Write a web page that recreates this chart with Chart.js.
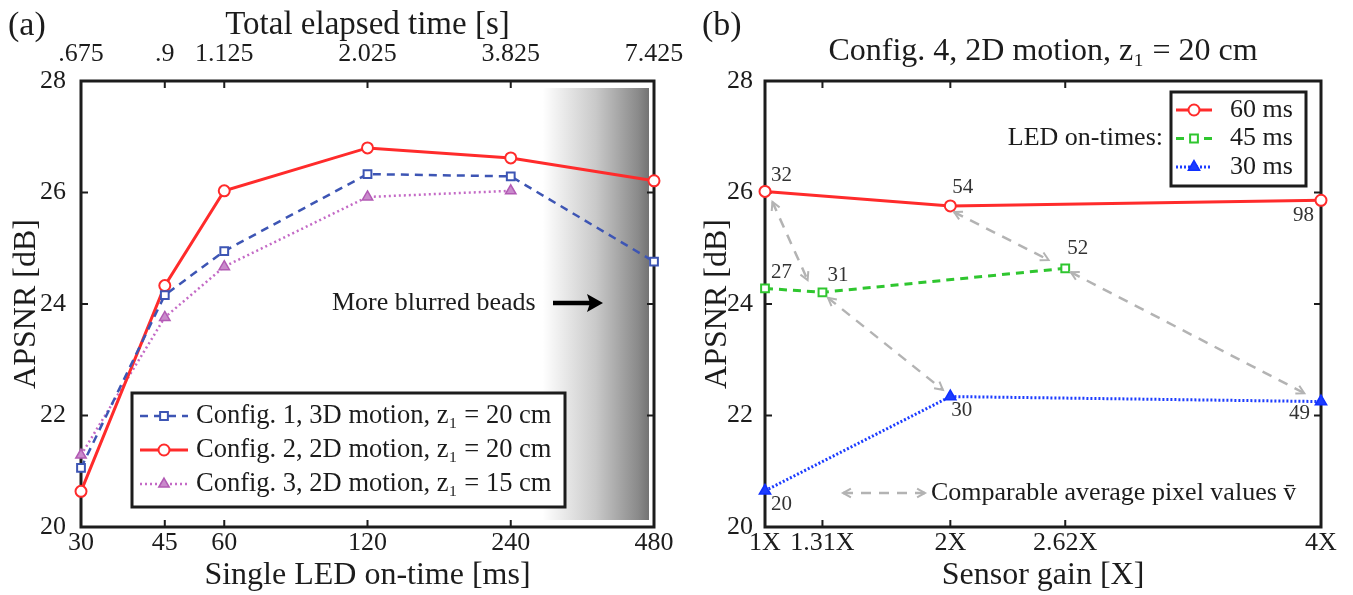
<!DOCTYPE html>
<html><head><meta charset="utf-8">
<script src="https://cdn.jsdelivr.net/npm/chart.js@4.4.1/dist/chart.umd.min.js"></script>
<style>
html,body{margin:0;padding:0;background:#fff;width:1353px;height:595px;overflow:hidden}
#wa{position:absolute;left:0;top:0;width:700px;height:595px}
#wb{position:absolute;left:700px;top:0;width:653px;height:595px}
</style></head><body>
<div id="wa"><canvas id="ca"></canvas></div>
<div id="wb"><canvas id="cb"></canvas></div>
<script>
// ---------- panel (a) data ----------
const ledOnTimes = [30, 45, 60, 120, 240, 480];
const elapsedTimeLabels = ['.675', '.9', '1.125', '2.025', '3.825', '7.425'];
const config1 = [21.06, 24.16, 24.95, 26.33, 26.29, 24.76];
const config2 = [20.64, 24.33, 26.03, 26.80, 26.62, 26.21];
const config3 = [21.29, 23.76, 24.67, 25.92, 26.03];
const apsnrTicks = [20, 22, 24, 26, 28];
const blurStartMs = 280;

// ---------- panel (b) data ----------
const gainValues = [1, 1.31, 2, 2.62, 4];
const gainLabels = ['1X', '1.31X', '2X', '2.62X', '4X'];
const gain60 = [1, 2, 4];
const apsnr60 = [26.02, 25.76, 25.86];
const pix60 = [32, 54, 98];
const gain45 = [1, 1.31, 2.62];
const apsnr45 = [24.28, 24.21, 24.64];
const pix45 = [27, 31, 52];
const gain30 = [1, 2, 4];
const apsnr30 = [20.65, 22.34, 22.25];
const pix30 = [20, 30, 49];
// comparable-pixel-value pairs (gain, APSNR) -> (gain, APSNR)
const comparableArrows = [
  [1.04, 25.83, 1.23, 24.43],
  [2.02, 25.65, 2.53, 24.79],
  [1.34, 24.11, 1.96, 22.46],
  [2.65, 24.57, 3.91, 22.40]
];

// ---------- styling ----------
const SERIF = "'Liberation Serif', 'Times New Roman', 'DejaVu Serif', serif";
const INK = '#1c1c1c';
Chart.defaults.font.family = SERIF;
Chart.defaults.color = INK;

function pts(xs, ys) { return ys.map((y, i) => ({ x: xs[i], y })); }

function tickFont(size) { return { size, lineHeight: 1, family: SERIF }; }

// frame + inward tick marks
const framePlugin = {
  id: 'frame',
  beforeDatasetsDraw(chart) {
    const { ctx, chartArea: a } = chart;
    const xs = chart.scales.x, ys = chart.scales.y;
    ctx.save();
    ctx.strokeStyle = INK;
    ctx.lineWidth = 2;
    const L = 7;
    xs.ticks.forEach(t => {
      const px = xs.getPixelForValue(t.value);
      if (px <= a.left + 1 || px >= a.right - 1) return;
      ctx.beginPath();
      ctx.moveTo(px, a.bottom); ctx.lineTo(px, a.bottom - L);
      ctx.moveTo(px, a.top); ctx.lineTo(px, a.top + L);
      ctx.stroke();
    });
    ys.ticks.forEach(t => {
      const py = ys.getPixelForValue(t.value);
      if (py <= a.top + 1 || py >= a.bottom - 1) return;
      ctx.beginPath();
      ctx.moveTo(a.left, py); ctx.lineTo(a.left + L, py);
      ctx.moveTo(a.right, py); ctx.lineTo(a.right - L, py);
      ctx.stroke();
    });
    ctx.lineWidth = 3;
    ctx.strokeRect(a.left, a.top, a.right - a.left, a.bottom - a.top);
    ctx.restore();
  }
};

function drawLegendRow(ctx, ds, x1, x2, y, textX, size) {
  ctx.save();
  ctx.strokeStyle = ds.borderColor;
  ctx.lineWidth = ds.borderWidth;
  ctx.setLineDash(ds.borderDash || []);
  ctx.beginPath(); ctx.moveTo(x1, y); ctx.lineTo(x2, y); ctx.stroke();
  ctx.setLineDash([]);
  ctx.fillStyle = ds.pointBackgroundColor;
  ctx.strokeStyle = ds.pointBorderColor;
  ctx.lineWidth = ds.pointBorderWidth;
  Chart.helpers.drawPoint(ctx, { pointStyle: ds.pointStyle, radius: ds.pointRadius, borderWidth: ds.pointBorderWidth, rotation: 0 }, (x1 + x2) / 2, y);
  ctx.fillStyle = INK;
  ctx.font = size + 'px ' + SERIF;
  ctx.textAlign = 'left'; ctx.textBaseline = 'middle';
  ctx.fillText(ds.label, textX, y);
  ctx.restore();
}

function arrowHead(ctx, x, y, ang, len, spread) {
  ctx.beginPath();
  ctx.moveTo(x + len * Math.cos(ang + spread), y + len * Math.sin(ang + spread));
  ctx.lineTo(x, y);
  ctx.lineTo(x + len * Math.cos(ang - spread), y + len * Math.sin(ang - spread));
  ctx.stroke();
}

function dashedDoubleArrow(ctx, x1, y1, x2, y2) {
  ctx.save();
  ctx.strokeStyle = '#b3b3b3';
  ctx.lineWidth = 2.5;
  ctx.setLineDash([10, 8]);
  ctx.beginPath(); ctx.moveTo(x1, y1); ctx.lineTo(x2, y2); ctx.stroke();
  ctx.setLineDash([]);
  ctx.lineWidth = 2;
  const ang = Math.atan2(y2 - y1, x2 - x1);
  arrowHead(ctx, x2, y2, ang + Math.PI, 9, 0.5);
  arrowHead(ctx, x1, y1, ang, 9, 0.5);
  ctx.restore();
}

// ---------- panel (a) plugins ----------
const blurShade = {
  id: 'blurShade',
  beforeDatasetsDraw(chart) {
    const { ctx, chartArea: a } = chart;
    const x0 = chart.scales.x.getPixelForValue(blurStartMs);
    const x1 = a.right - 5;
    const g = ctx.createLinearGradient(x0, 0, x1, 0);
    g.addColorStop(0, '#ffffff');
    g.addColorStop(0.5, '#c9c9c9');
    g.addColorStop(0.9, '#8a8a8a');
    g.addColorStop(1, '#737373');
    ctx.save();
    ctx.fillStyle = g;
    ctx.fillRect(x0, a.top + 7, x1 - x0, a.bottom - a.top - 14);
    ctx.restore();
  }
};

const annotA = {
  id: 'annotA',
  afterDatasetsDraw(chart) {
    const { ctx, chartArea: a } = chart;
    ctx.save();
    // legend box
    const bx = a.left + 51, by = a.top + 312, bw = 433, bh = 114;
    ctx.fillStyle = '#fff';
    ctx.fillRect(bx, by, bw, bh);
    ctx.strokeStyle = INK; ctx.lineWidth = 3;
    ctx.strokeRect(bx, by, bw, bh);
    chart.data.datasets.forEach((ds, i) => {
      const y = by + 23 + i * 34;
      drawLegendRow(ctx, ds, bx + 8, bx + 56, y, bx + 64, 26.5);
    });
    // "More blurred beads" note
    ctx.fillStyle = INK;
    ctx.font = '26px ' + SERIF;
    ctx.textAlign = 'left'; ctx.textBaseline = 'middle';
    const ty = a.top + 222;
    ctx.fillText('More blurred beads', a.left + 251, ty);
    ctx.strokeStyle = '#000'; ctx.lineWidth = 4.5;
    ctx.beginPath(); ctx.moveTo(a.left + 472, ty); ctx.lineTo(a.left + 512, ty); ctx.stroke();
    ctx.fillStyle = '#000';
    ctx.beginPath();
    ctx.moveTo(a.left + 522, ty);
    ctx.lineTo(a.left + 506, ty - 9);
    ctx.lineTo(a.left + 509, ty);
    ctx.lineTo(a.left + 506, ty + 9);
    ctx.closePath(); ctx.fill();
    // panel label
    ctx.font = '34px ' + SERIF;
    ctx.fillStyle = INK;
    ctx.fillText('(a)', 8, 26);
    ctx.restore();
  }
};

new Chart(document.getElementById('ca'), {
  type: 'line',
  data: {
    datasets: [
      { label: 'Config. 1, 3D motion, z\u2081 = 20 cm', data: pts(ledOnTimes, config1), clip: false,
        borderColor: '#3d55b4', borderWidth: 2.5, borderDash: [8, 6],
        pointStyle: 'rect', pointRadius: 5.5, pointBorderWidth: 2, pointBorderColor: '#3d55b4', pointBackgroundColor: '#ffffff' },
      { label: 'Config. 2, 2D motion, z\u2081 = 20 cm', data: pts(ledOnTimes, config2), clip: false,
        borderColor: '#ff2b2b', borderWidth: 3, borderDash: [],
        pointStyle: 'circle', pointRadius: 5.5, pointBorderWidth: 2, pointBorderColor: '#ff2b2b', pointBackgroundColor: '#ffffff' },
      { label: 'Config. 3, 2D motion, z\u2081 = 15 cm', data: pts(ledOnTimes, config3), clip: false,
        borderColor: '#c46ac6', borderWidth: 2.5, borderDash: [2, 3],
        pointStyle: 'triangle', pointRadius: 6, pointBorderWidth: 1.5, pointBorderColor: '#b25ab4', pointBackgroundColor: '#c98acb' }
    ]
  },
  options: {
    responsive: true, maintainAspectRatio: false, animation: false,
    layout: { padding: { left: 0, right: 46, top: 0, bottom: 0 } },
    plugins: { legend: { display: false }, tooltip: { enabled: false }, title: { display: false } },
    scales: {
      x: {
        type: 'logarithmic', position: 'bottom', min: 30, max: 480,
        afterBuildTicks: s => { s.ticks = ledOnTimes.map(v => ({ value: v })); },
        afterFit: s => { s.height = 68; },
        grid: { display: false, drawTicks: false }, border: { display: false },
        ticks: { autoSkip: false, maxRotation: 0, padding: 3, font: tickFont(26), color: INK,
                 callback: (v, i) => String(ledOnTimes[i]) },
        title: { display: true, text: 'Single LED on-time [ms]', font: { size: 32, lineHeight: 1 }, padding: { top: 0, bottom: 3 }, color: INK }
      },
      x2: {
        type: 'logarithmic', position: 'top', min: 30, max: 480,
        afterBuildTicks: s => { s.ticks = ledOnTimes.map(v => ({ value: v })); },
        afterFit: s => { s.height = 81; },
        grid: { display: false, drawTicks: false }, border: { display: false },
        ticks: { autoSkip: false, maxRotation: 0, padding: 14, font: tickFont(26), color: INK,
                 callback: (v, i) => elapsedTimeLabels[i] },
        title: { display: true, text: 'Total elapsed time [s]', font: { size: 33, lineHeight: 1 }, padding: { top: 9, bottom: 0 }, color: INK }
      },
      y: {
        type: 'linear', position: 'left', min: 20, max: 28,
        afterBuildTicks: s => { s.ticks = apsnrTicks.map(v => ({ value: v })); },
        afterFit: s => { s.width = 81; },
        grid: { display: false, drawTicks: false }, border: { display: false },
        ticks: { padding: 15, font: tickFont(26), color: INK },
        title: { display: true, text: 'APSNR [dB]', font: { size: 32, lineHeight: 1 }, padding: { top: 11, bottom: 0 }, color: INK }
      }
    }
  },
  plugins: [blurShade, framePlugin, annotA]
});

// ---------- panel (b) ----------
const labelOffsets = [
  [[6, -16, 'left'], [2, -18, 'left'], [-7, 15, 'right']],
  [[6, -16, 'left'], [5, -17, 'left'], [2, -20, 'left']],
  [[6, 14, 'left'], [1, 14, 'left'], [-11, 12, 'right']]
];

const annotB = {
  id: 'annotB',
  afterDatasetsDraw(chart) {
    const { ctx, chartArea: a } = chart;
    const xs = chart.scales.x, ys = chart.scales.y;
    ctx.save();
    // comparable arrows
    comparableArrows.forEach(r => {
      dashedDoubleArrow(ctx, xs.getPixelForValue(r[0]), ys.getPixelForValue(r[1]),
                        xs.getPixelForValue(r[2]), ys.getPixelForValue(r[3]));
    });
    // pixel value labels
    ctx.fillStyle = '#333';
    ctx.font = '21px ' + SERIF;
    ctx.textBaseline = 'middle';
    chart.data.datasets.forEach((ds, di) => {
      const meta = chart.getDatasetMeta(di);
      meta.data.forEach((el, i) => {
        const o = labelOffsets[di][i];
        ctx.textAlign = o[2];
        ctx.fillText(String(ds.pixelValues[i]), el.x + o[0], el.y + o[1]);
      });
    });
    // legend box
    const bx = a.left + 406, by = a.top + 11, bw = 135, bh = 94;
    ctx.fillStyle = '#fff'; ctx.fillRect(bx, by, bw, bh);
    ctx.strokeStyle = INK; ctx.lineWidth = 3; ctx.strokeRect(bx, by, bw, bh);
    chart.data.datasets.forEach((ds, i) => {
      const y = by + 18 + i * 28.5;
      drawLegendRow(ctx, ds, bx + 5, bx + 41, y, bx + 59, 26);
    });
    ctx.fillStyle = INK;
    ctx.font = '26px ' + SERIF;
    ctx.textAlign = 'right'; ctx.textBaseline = 'middle';
    ctx.fillText('LED on-times:', bx - 8, by + 46.5);
    // comparable legend at bottom
    const ly = a.bottom - 34;
    dashedDoubleArrow(ctx, a.left + 78, ly, a.left + 160, ly);
    ctx.fillStyle = INK;
    ctx.textAlign = 'left';
    ctx.fillText('Comparable average pixel values v\u0304', a.left + 166, ly);
    // panel label
    ctx.font = '34px ' + SERIF;
    ctx.fillText('(b)', 2, 26);
    ctx.restore();
  }
};

new Chart(document.getElementById('cb'), {
  type: 'line',
  data: {
    datasets: [
      { label: '60 ms', data: pts(gain60, apsnr60), pixelValues: pix60, clip: false,
        borderColor: '#ff2b2b', borderWidth: 3, borderDash: [],
        pointStyle: 'circle', pointRadius: 5.5, pointBorderWidth: 2, pointBorderColor: '#ff2b2b', pointBackgroundColor: '#ffffff' },
      { label: '45 ms', data: pts(gain45, apsnr45), pixelValues: pix45, clip: false,
        borderColor: '#2fc62f', borderWidth: 3, borderDash: [8, 6],
        pointStyle: 'rect', pointRadius: 5.5, pointBorderWidth: 2, pointBorderColor: '#2fc62f', pointBackgroundColor: '#ffffff' },
      { label: '30 ms', data: pts(gain30, apsnr30), pixelValues: pix30, clip: false,
        borderColor: '#1c3cff', borderWidth: 3, borderDash: [2, 2],
        pointStyle: 'triangle', pointRadius: 6.5, pointBorderWidth: 1.5, pointBorderColor: '#1030ff', pointBackgroundColor: '#1c3cff' }
    ]
  },
  options: {
    responsive: true, maintainAspectRatio: false, animation: false,
    layout: { padding: { left: 0, right: 32, top: 0, bottom: 0 } },
    plugins: {
      legend: { display: false }, tooltip: { enabled: false },
      title: { display: true, fullSize: false, text: 'Config. 4, 2D motion, z\u2081 = 20 cm', color: INK,
               font: { size: 32, lineHeight: 1, weight: 'normal' }, padding: { top: 36, bottom: 13 } }
    },
    scales: {
      x: {
        type: 'linear', position: 'bottom', min: 1, max: 4,
        afterBuildTicks: s => { s.ticks = gainValues.map(v => ({ value: v })); },
        afterFit: s => { s.height = 68; },
        grid: { display: false, drawTicks: false }, border: { display: false },
        ticks: { autoSkip: false, maxRotation: 0, padding: 3, font: tickFont(26), color: INK,
                 callback: (v, i) => gainLabels[i] },
        title: { display: true, text: 'Sensor gain [X]', font: { size: 32, lineHeight: 1 }, padding: { top: 0, bottom: 3 }, color: INK }
      },
      y: {
        type: 'linear', position: 'left', min: 20, max: 28,
        afterBuildTicks: s => { s.ticks = apsnrTicks.map(v => ({ value: v })); },
        afterFit: s => { s.width = 65; },
        grid: { display: false, drawTicks: false }, border: { display: false },
        ticks: { padding: 12, font: tickFont(26), color: INK },
        title: { display: true, text: 'APSNR [dB]', font: { size: 32, lineHeight: 1 }, padding: { top: 2, bottom: 0 }, color: INK }
      }
    }
  },
  plugins: [framePlugin, annotB]
});
</script>
</body></html>
